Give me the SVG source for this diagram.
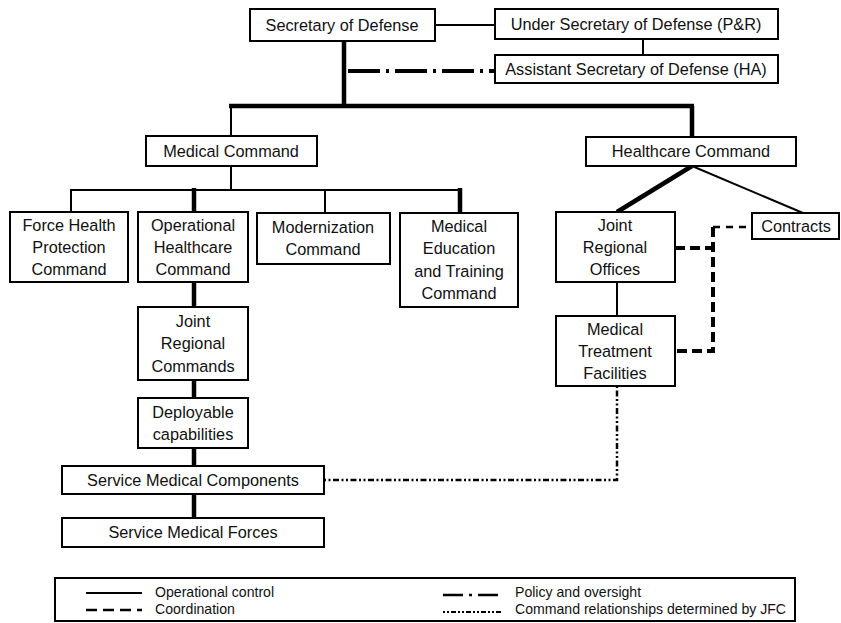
<svg xmlns="http://www.w3.org/2000/svg" width="841" height="623" viewBox="0 0 841 623">
<style>
  .box{fill:#fff;stroke:#000;stroke-width:2}
  .t{font-family:"Liberation Sans",Arial,sans-serif;font-size:16.3px;fill:#111;text-anchor:middle}
  .lt{font-family:"Liberation Sans",Arial,sans-serif;font-size:14.1px;fill:#111}
  .thin{fill:none;stroke:#000;stroke-width:2}
  .thick{fill:none;stroke:#000;stroke-width:4.5}
  .dd{fill:none;stroke:#000;stroke-width:4;stroke-dasharray:32 6 3 6}
  .dash{fill:none;stroke:#000;stroke-width:4;stroke-dasharray:10 5}
  .dashthin{fill:none;stroke:#000;stroke-width:2.5;stroke-dasharray:7 6}
  .dot{fill:none;stroke:#000;stroke-width:2.5;stroke-dasharray:2 2.5 2 2.5 6 2.5}
</style>
<rect width="841" height="623" fill="#fff"/>
<g id="connectors">
  <path class="thin" d="M435,25 H495"/>
  <path class="thin" d="M643,39 V55"/>
  <path class="dd" d="M348,71 H495"/>
  <path class="thick" d="M344,41 V106"/>
  <path class="thick" d="M229,106 H694"/>
  <path class="thin" d="M231,106 V136"/>
  <path class="thick" d="M692,106 V137"/>
  <path class="thin" d="M231,166 V190"/>
  <path class="thin" d="M70,190 H461"/>
  <path class="thin" d="M71,190 V212"/>
  <path class="thick" d="M194,188 V212"/>
  <path class="thin" d="M325,190 V213"/>
  <path class="thick" d="M460,188 V213"/>
  <path class="thick" d="M194,282 V307"/>
  <path class="thick" d="M194,380 V398"/>
  <path class="thick" d="M194,448 V466"/>
  <path class="thick" d="M194,494 V518"/>
  <path class="thick" d="M692,166 L617,212"/>
  <path class="thin" d="M692,166 L803,213"/>
  <path class="thin" d="M617,282 V316"/>
  <path class="dash" d="M675,248 H713"/>
  <path class="dash" d="M713,227 V351 H675"/>
  <path class="dashthin" d="M713,227 H752"/>
  <path class="dot" d="M324,480 H617 V386"/>
</g>
<g id="secdef"><rect class="box" x="250" y="9" width="185" height="32"/><text class="t" x="342" y="31">Secretary of Defense</text></g>
<g id="usd"><rect class="box" x="495" y="9" width="283" height="30"/><text class="t" x="636" y="30">Under Secretary of Defense (P&amp;R)</text></g>
<g id="asd"><rect class="box" x="495" y="55" width="283" height="28"/><text class="t" x="636" y="75">Assistant Secretary of Defense (HA)</text></g>
<g id="medcmd"><rect class="box" x="146" y="136" width="171" height="30"/><text class="t" x="231" y="157">Medical Command</text></g>
<g id="hccmd"><rect class="box" x="586" y="137" width="210" height="29"/><text class="t" x="691" y="157">Healthcare Command</text></g>
<g id="fhp"><rect class="box" x="10" y="212" width="118" height="70"/><text class="t" x="69" y="231">Force Health</text><text class="t" x="69" y="253">Protection</text><text class="t" x="69" y="275">Command</text></g>
<g id="ohc"><rect class="box" x="138" y="212" width="110" height="70"/><text class="t" x="193" y="231">Operational</text><text class="t" x="193" y="253">Healthcare</text><text class="t" x="193" y="275">Command</text></g>
<g id="mod"><rect class="box" x="257" y="213" width="133" height="51"/><text class="t" x="323" y="233">Modernization</text><text class="t" x="323" y="255">Command</text></g>
<g id="medet"><rect class="box" x="400" y="213" width="118" height="94"/><text class="t" x="459" y="232">Medical</text><text class="t" x="459" y="254">Education</text><text class="t" x="459" y="277">and Training</text><text class="t" x="459" y="299">Command</text></g>
<g id="jro"><rect class="box" x="556" y="212" width="119" height="70"/><text class="t" x="615" y="231">Joint</text><text class="t" x="615" y="253">Regional</text><text class="t" x="615" y="275">Offices</text></g>
<g id="contracts"><rect class="box" x="752" y="213" width="87" height="26"/><text class="t" x="796" y="232">Contracts</text></g>
<g id="mtf"><rect class="box" x="556" y="316" width="119" height="70"/><text class="t" x="615" y="335">Medical</text><text class="t" x="615" y="357">Treatment</text><text class="t" x="615" y="379">Facilities</text></g>
<g id="jrc"><rect class="box" x="138" y="307" width="110" height="73"/><text class="t" x="193" y="327">Joint</text><text class="t" x="193" y="349">Regional</text><text class="t" x="193" y="372">Commands</text></g>
<g id="dep"><rect class="box" x="138" y="398" width="110" height="50"/><text class="t" x="193" y="418">Deployable</text><text class="t" x="193" y="440">capabilities</text></g>
<g id="smc"><rect class="box" x="62" y="466" width="262" height="28"/><text class="t" x="193" y="486">Service Medical Components</text></g>
<g id="smf"><rect class="box" x="62" y="518" width="262" height="29"/><text class="t" x="193" y="538">Service Medical Forces</text></g>
<g id="legend">
  <rect class="box" x="55" y="578" width="740" height="43"/>
  <path class="thin" d="M86,593 H142"/>
  <text class="lt" x="155" y="597">Operational control</text>
  <path fill="none" stroke="#000" stroke-width="2.5" stroke-dasharray="11 6" d="M86,610 H142"/>
  <text class="lt" x="155" y="614">Coordination</text>
  <path fill="none" stroke="#000" stroke-width="2.5" stroke-dasharray="20 6 3 6 20" d="M443,595 H503"/>
  <text class="lt" x="515" y="597">Policy and oversight</text>
  <path fill="none" stroke="#000" stroke-width="2" stroke-dasharray="2 2 2 2 5 2" d="M443,612 H503"/>
  <text class="lt" x="515" y="614">Command relationships determined by JFC</text>
</g>
</svg>
